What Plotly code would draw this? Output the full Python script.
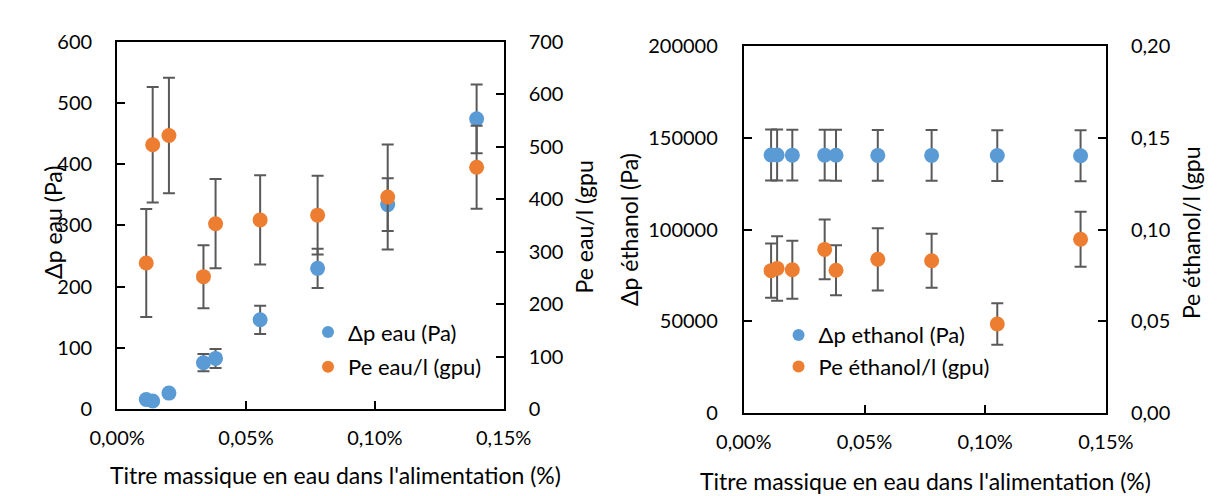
import plotly.graph_objects as go

# ---------------- data ----------------
x_titre = [0.0113, 0.0138, 0.0201, 0.0335, 0.0382, 0.0555, 0.0778, 0.1050, 0.1395]  # %

dp_eau = [16, 13.5, 26.4, 76, 83, 146, 230, 334, 474]
dp_eau_err = [2, 2, 4, 14, 15.5, 23, 32, 43, 56]
pe_eau = [278.5, 503.7, 521.2, 252.5, 353.3, 360.6, 369.6, 404, 460.7]
pe_eau_err = [103, 110, 110, 60, 85, 85, 75, 100, 79]

dp_eth = [140700, 140700, 140650, 140650, 140600, 140500, 140500, 140400, 140300]
dp_eth_err = [13900, 13900, 13900, 13900, 13900, 13900, 13900, 13900, 13900]
pe_eth = [0.0776, 0.0788, 0.0781, 0.0892, 0.0778, 0.0838, 0.0830, 0.0485, 0.0947]
pe_eth_err = [0.0148, 0.0176, 0.0158, 0.0163, 0.0137, 0.0170, 0.0147, 0.0113, 0.0150]

x_tickvals = [0, 0.05, 0.10, 0.15]
x_ticktext = ["0,00%", "0,05%", "0,10%", "0,15%"]

names_left = ["Δp eau (Pa)", "Pe eau/l (gpu)"]
names_right = ["Δp ethanol (Pa)", "Pe éthanol/l (gpu)"]
x_title = "Titre massique en eau dans l'alimentation (%)"
y_titles = ["Δp eau (Pa)", "Pe eau/l (gpu", "Δp éthanol (Pa)", "Pe éthanol/l (gpu"]

# ---------------- style ----------------
W, H = 1229, 496
BLUE = "#5B9BD5"
ORANGE = "#ED7D31"
ERR = "#595959"
FONT = "Lato"
TICKF = 20
LEGF = 22
TITF = 23


def px(x):
    return x / W


def py(y):
    return 1 - y / H


def err(arr):
    return dict(type="data", array=arr, visible=True, color=ERR, thickness=2, width=6)


fig = go.Figure()
fig.add_trace(go.Scatter(x=x_titre, y=dp_eau, mode="markers", name=names_left[0],
                         marker=dict(color=BLUE, size=15), error_y=err(dp_eau_err),
                         xaxis="x", yaxis="y", legend="legend", legendgroup="a"))
fig.add_trace(go.Scatter(x=x_titre, y=pe_eau, mode="markers", name=names_left[1],
                         marker=dict(color=ORANGE, size=15), error_y=err(pe_eau_err),
                         xaxis="x", yaxis="y2", legend="legend", legendgroup="b"))
fig.add_trace(go.Scatter(x=x_titre, y=dp_eth, mode="markers", name=names_right[0],
                         marker=dict(color=BLUE, size=15), error_y=err(dp_eth_err),
                         xaxis="x2", yaxis="y3", legend="legend2", legendgroup="c"))
fig.add_trace(go.Scatter(x=x_titre, y=pe_eth, mode="markers", name=names_right[1],
                         marker=dict(color=ORANGE, size=15), error_y=err(pe_eth_err),
                         xaxis="x2", yaxis="y4", legend="legend2", legendgroup="d"))

common = dict(showgrid=False, zeroline=False, showline=True, linecolor="black", linewidth=2,
              ticks="inside", ticklen=8, tickwidth=1.5, tickcolor="black",
              tickfont=dict(family=FONT, size=TICKF, color="black"))

L_dom_x = [px(85), px(490)]
L_dom_y = [py(408), py(21.7)]
R_dom_x = [px(741.6), px(1121)]
R_dom_y = [py(411.7), py(26.7)]

fig.update_layout(
    width=W, height=H, margin=dict(l=0, r=0, t=0, b=0),
    paper_bgcolor="white", plot_bgcolor="white",
    separators=", ",
    font=dict(family=FONT, color="black"),
    xaxis=dict(domain=L_dom_x, range=[0, 0.15], tickvals=x_tickvals, ticktext=x_ticktext,
               anchor="y", mirror=True, ticklabelstandoff=10, **common),
    yaxis=dict(domain=L_dom_y, range=[0, 600], dtick=100, anchor="x", mirror=True,
               ticklabelstandoff=19, **common),
    yaxis2=dict(overlaying="y", side="right", range=[0, 700], dtick=100, anchor="x",
                ticklabelstandoff=19, **common),
    xaxis2=dict(domain=R_dom_x, range=[0, 0.15], tickvals=x_tickvals, ticktext=x_ticktext,
                anchor="y3", mirror=True, ticklabelstandoff=10, **common),
    yaxis3=dict(domain=R_dom_y, range=[0, 200000], dtick=50000, tickformat="d", anchor="x2",
                mirror=True, ticklabelstandoff=20, **common),
    yaxis4=dict(overlaying="y3", side="right", range=[0, 0.2], dtick=0.05, tickformat=".2f",
                anchor="x2", ticklabelstandoff=19, **common),
    legend=dict(x=px(285), y=py(305), xanchor="left", yanchor="top", bgcolor="rgba(0,0,0,0)",
                font=dict(family=FONT, size=LEGF, color="black"), tracegroupgap=3,
                itemsizing="constant"),
    legend2=dict(x=px(778), y=py(308), xanchor="left", yanchor="top", bgcolor="rgba(0,0,0,0)",
                 font=dict(family=FONT, size=LEGF, color="black"), tracegroupgap=0,
                 itemsizing="constant"),
)

ann = [
    dict(text=x_title, x=px(314), y=py(477)),
    dict(text=x_title, x=px(932), y=py(483)),
    dict(text=y_titles[0], x=px(18), y=py(212), textangle=-90),
    dict(text=y_titles[1], x=px(574), y=py(216), textangle=-90),
    dict(text=y_titles[2], x=px(622), y=py(219), textangle=-90),
    dict(text=y_titles[3], x=px(1210), y=py(222), textangle=-90),
]
for a in ann:
    fig.add_annotation(xref="paper", yref="paper", showarrow=False, xanchor="center",
                       yanchor="middle", font=dict(family=FONT, size=TITF, color="black"), **a)

fig.write_html("out.html")
